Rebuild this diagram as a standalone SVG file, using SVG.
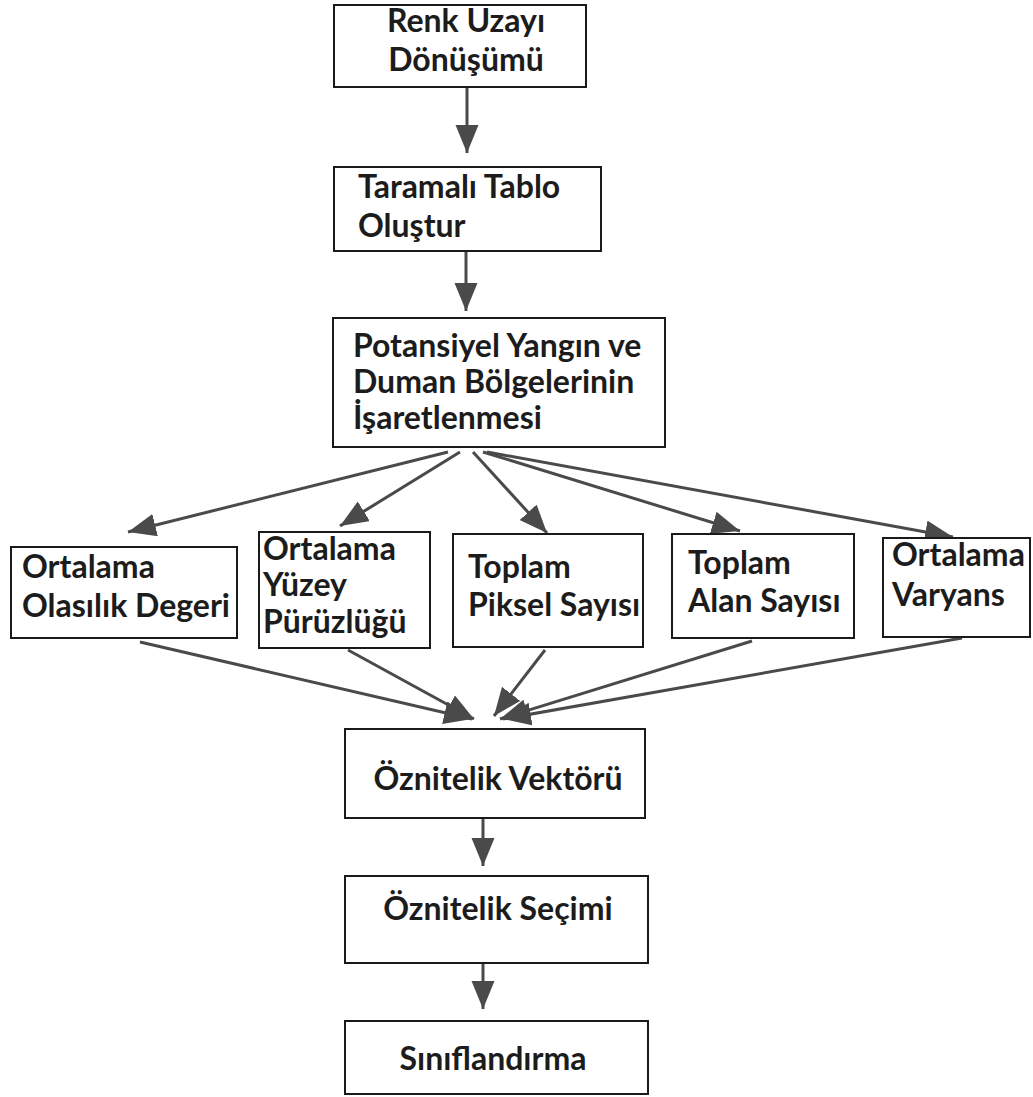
<svg xmlns="http://www.w3.org/2000/svg" width="1033" height="1097" viewBox="0 0 1033 1097">
<defs>
<style>
.box{fill:#fff;stroke:#1a1a1a;stroke-width:2}
.t{font-family:Lato,"Liberation Sans",sans-serif;font-weight:bold;font-size:32px;fill:#1c1c1c}
.c{text-anchor:middle}
.ln{stroke:#4a4a4a;stroke-width:3;fill:none}
.ar{marker-end:url(#ah)}
</style>
<marker id="ah" markerUnits="userSpaceOnUse" markerWidth="30" markerHeight="24" refX="28" refY="11.5" orient="auto">
<path d="M0,0 L28,11.5 L0,23 z" fill="#4a4a4a"/>
</marker>
</defs>
<rect width="1033" height="1097" fill="#fff"/>
<g id="connectors">
<line class="ln ar" x1="467" y1="88" x2="467" y2="153"/>
<line class="ln ar" x1="466" y1="251" x2="466" y2="311"/>
<line class="ln ar" x1="448" y1="452" x2="128" y2="532"/>
<line class="ln ar" x1="460" y1="452" x2="340" y2="526"/>
<line class="ln ar" x1="473" y1="452" x2="547" y2="533"/>
<line class="ln ar" x1="483" y1="452" x2="740" y2="531"/>
<line class="ln ar" x1="487" y1="452" x2="953" y2="537"/>
<line class="ln ar" x1="140" y1="642" x2="472" y2="719"/>
<line class="ln ar" x1="348" y1="650" x2="474" y2="719"/>
<line class="ln ar" x1="545" y1="650" x2="494" y2="716"/>
<line class="ln ar" x1="752" y1="641" x2="500" y2="719"/>
<line class="ln ar" x1="962" y1="638" x2="503" y2="719"/>
<line class="ln ar" x1="483" y1="818" x2="483" y2="866"/>
<line class="ln ar" x1="483" y1="963" x2="483" y2="1009"/>
</g>
<g id="n1"><rect class="box" x="334" y="5" width="252" height="82"/>
<text class="t c" x="466" y="32">Renk Uzayı</text><text class="t c" x="466" y="71">Dönüşümü</text></g>
<g id="n2"><rect class="box" x="334" y="167" width="267" height="84"/>
<text class="t" x="358" y="198">Taramalı Tablo</text><text class="t" x="358" y="237">Oluştur</text></g>
<g id="n3"><rect class="box" x="333" y="318" width="332" height="129"/>
<text class="t" x="353" y="357">Potansiyel Yangın ve</text><text class="t" x="353" y="393">Duman Bölgelerinin</text><text class="t" x="353" y="429">İşaretlenmesi</text></g>
<g id="nA"><rect class="box" x="11" y="547" width="226" height="91"/>
<text class="t" x="22" y="578">Ortalama</text><text class="t" x="22" y="617">Olasılık Degeri</text></g>
<g id="nB"><rect class="box" x="259" y="532" width="171" height="116"/>
<text class="t" x="263" y="560">Ortalama</text><text class="t" x="263" y="596">Yüzey</text><text class="t" x="263" y="633">Pürüzlüğü</text></g>
<g id="nC"><rect class="box" x="453" y="534" width="190" height="113"/>
<text class="t" x="468" y="578">Toplam</text><text class="t" x="468" y="616">Piksel Sayısı</text></g>
<g id="nD"><rect class="box" x="672" y="534" width="182" height="104"/>
<text class="t" x="688" y="574">Toplam</text><text class="t" x="688" y="612">Alan Sayısı</text></g>
<g id="nE"><rect class="box" x="883" y="538" width="147" height="99"/>
<text class="t" x="892" y="566">Ortalama</text><text class="t" x="892" y="606">Varyans</text></g>
<g id="nF"><rect class="box" x="345" y="729" width="300" height="89"/>
<text class="t c" x="498" y="790">Öznitelik Vektörü</text></g>
<g id="nG"><rect class="box" x="345" y="876" width="303" height="87"/>
<text class="t c" x="498" y="920">Öznitelik Seçimi</text></g>
<g id="nH"><rect class="box" x="345" y="1021" width="303" height="73"/>
<text class="t c" x="493" y="1070">Sınıflandırma</text></g>
</svg>
